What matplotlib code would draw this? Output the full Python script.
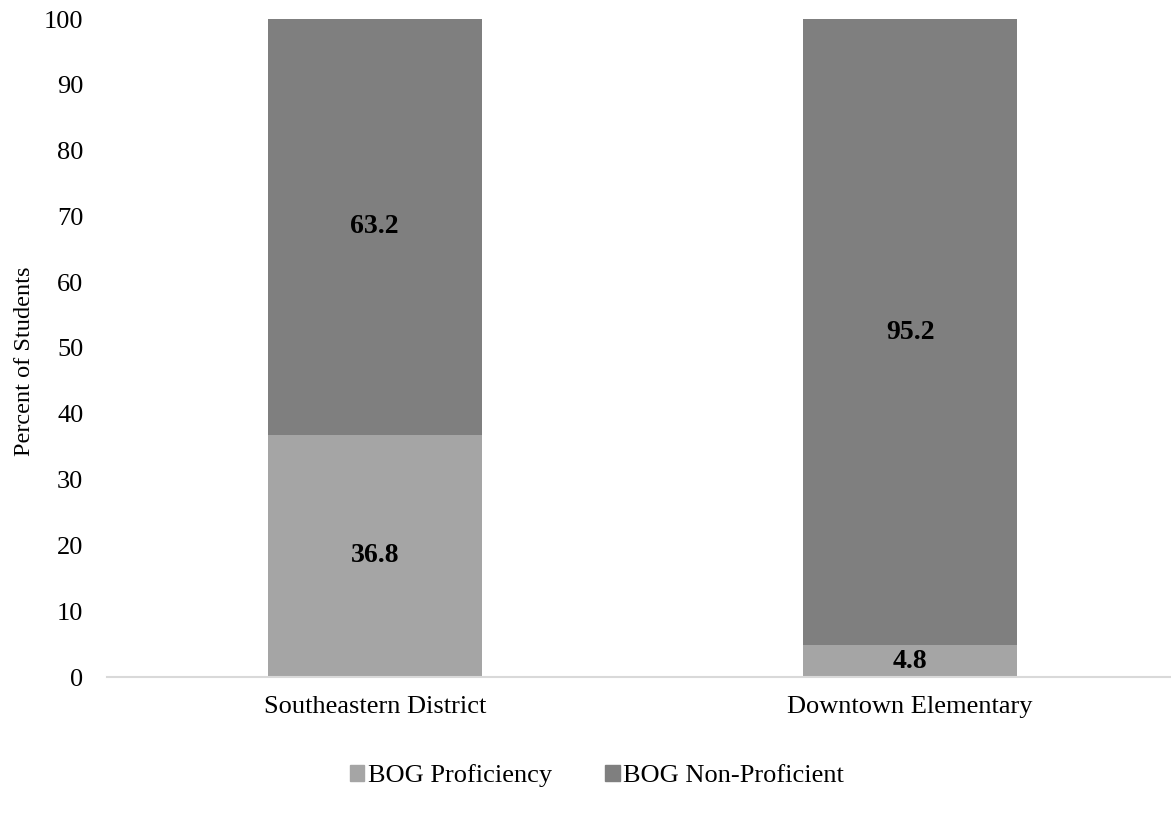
import matplotlib
matplotlib.use("Agg")
import matplotlib.pyplot as plt
from matplotlib.patches import Patch

plt.rcParams["font.family"] = ["Liberation Serif", "DejaVu Serif"]

schools = ["Southeastern District", "Downtown Elementary"]
proficient = [36.8, 4.8]
non_proficient = [63.2, 95.2]
series_names = ["BOG Proficiency", "BOG Non-Proficient"]
y_ticks = [0, 10, 20, 30, 40, 50, 60, 70, 80, 90, 100]

LIGHT = "#A5A5A5"
DARK = "#7F7F7F"

fig = plt.figure(figsize=(11.71, 8.17), dpi=100)
ax = fig.add_axes([107 / 1171, 140 / 817, 1 - 107 / 1171, 658 / 817])

x = range(len(schools))
bars_low = ax.bar(x, proficient, width=0.4, color=LIGHT)
bars_high = ax.bar(x, non_proficient, width=0.4, bottom=proficient, color=DARK)

# bold value labels centred in each segment
for bars, vals, base in ((bars_low, proficient, [0, 0]), (bars_high, non_proficient, proficient)):
    for bar, v, b in zip(bars, vals, base):
        ax.text(bar.get_x() + bar.get_width() / 2, b + v / 2, f"{v:.1f}",
                ha="center", va="center", fontsize=20, fontweight="bold")

ax.set_xlim(-0.5, 1.487)
ax.set_ylim(0, 100)
ax.set_yticks(y_ticks)
ax.set_xticks(list(x))
ax.set_xticklabels(schools)
ax.tick_params(axis="both", length=0, labelsize=19)
ax.tick_params(axis="x", pad=14)
ax.tick_params(axis="y", pad=17)
for side in ("top", "right", "left"):
    ax.spines[side].set_visible(False)
ax.spines["bottom"].set_color("#D9D9D9")
ax.spines["bottom"].set_linewidth(1.5)

ax.set_ylabel("Percent of Students", fontsize=17.5)
ax.yaxis.set_label_coords(-0.068, 0.48)

handles = [Patch(color=LIGHT), Patch(color=DARK)]
fig.legend(handles, series_names, loc="center", bbox_to_anchor=(597 / 1171, 41 / 817),
           ncol=2, frameon=False, fontsize=19, handlelength=0.55, handleheight=0.55,
           handletextpad=0.15, columnspacing=2.0)

fig.savefig("out.png", dpi=100)
